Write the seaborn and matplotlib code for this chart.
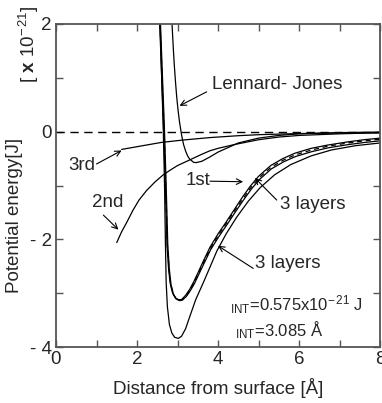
import seaborn as sns
import matplotlib.pyplot as plt

# Lennard-Jones curve
lj_x = [2.86, 2.88, 2.9, 2.92, 2.95, 2.98, 3.0, 3.02, 3.05, 3.1, 3.15, 3.2, 3.25, 3.3, 3.4, 3.46,
        3.6, 3.7, 3.8, 4.0, 4.5, 5.0, 5.5, 6.0, 7.0, 8.0]
lj_y = [2.08, 1.78, 1.50, 1.25, 0.93, 0.65, 0.50, 0.36, 0.18, -0.06, -0.24, -0.36, -0.45, -0.51, -0.57, -0.575,
        -0.55, -0.51, -0.47, -0.38, -0.21, -0.12, -0.07, -0.04, -0.017, -0.008]

# 1st layer (upper well)
first_x = [2.56, 2.61, 2.66, 2.70, 2.74, 2.78, 2.82, 2.88, 2.95, 3.03, 3.10, 3.20, 3.30, 3.40, 3.50, 3.64,
           3.80, 4.00, 4.20, 4.40, 4.60, 4.80, 5.00, 5.30, 5.60, 5.90, 6.30, 6.70, 7.20, 7.60, 8.00]
first_y = [2.0, 1.0, 0.0, -1.0, -2.1, -2.55, -2.82, -3.00, -3.09, -3.12, -3.12, -3.04, -2.93, -2.79, -2.63, -2.40,
           -2.15, -1.90, -1.68, -1.45, -1.22, -1.01, -0.83, -0.63, -0.50, -0.40, -0.31, -0.25, -0.19, -0.15, -0.12]

# dashed curve lying on the 1st layer curve
dash_x = [2.57, 2.62, 2.67, 2.71, 2.75, 2.79, 2.83, 2.89, 2.96, 3.04, 3.11, 3.21, 3.31, 3.41, 3.51, 3.65,
          3.81, 4.01, 4.21, 4.41, 4.61, 4.81, 5.01, 5.31, 5.61, 5.91, 6.31, 6.71, 7.21, 7.61, 8.00]
dash_y = [2.0, 1.0, 0.0, -1.0, -2.1, -2.56, -2.83, -3.01, -3.10, -3.13, -3.12, -3.05, -2.94, -2.80, -2.64, -2.42,
          -2.17, -1.92, -1.70, -1.47, -1.25, -1.04, -0.86, -0.66, -0.53, -0.43, -0.34, -0.27, -0.21, -0.17, -0.14]

# 3 layers (upper)
three_up_x = [2.58, 2.63, 2.68, 2.72, 2.76, 2.80, 2.84, 2.90, 2.97, 3.05, 3.12, 3.22, 3.32, 3.42, 3.52, 3.66,
              3.82, 4.02, 4.22, 4.42, 4.62, 4.82, 5.02, 5.32, 5.62, 5.92, 6.32, 6.72, 7.22, 7.62, 8.00]
three_up_y = [2.0, 1.0, 0.0, -1.0, -2.1, -2.57, -2.84, -3.02, -3.11, -3.14, -3.13, -3.06, -2.95, -2.82, -2.66, -2.44,
              -2.19, -1.95, -1.73, -1.50, -1.28, -1.07, -0.89, -0.69, -0.56, -0.46, -0.37, -0.30, -0.24, -0.20, -0.17]

# 3 layers (lower, deeper well)
three_lo_x = [2.57, 2.61, 2.65, 2.68, 2.70, 2.72, 2.75, 2.80, 2.86, 2.93, 3.02, 3.10, 3.20, 3.31, 3.45, 3.64,
              3.80, 3.97, 4.20, 4.46, 4.75, 5.04, 5.40, 5.80, 6.30, 6.80, 7.40, 8.00]
three_lo_y = [2.0, 1.0, 0.0, -1.0, -2.0, -2.8, -3.25, -3.58, -3.74, -3.82, -3.84, -3.80, -3.66, -3.42, -3.12, -2.80,
              -2.52, -2.22, -1.90, -1.59, -1.29, -1.04, -0.80, -0.61, -0.45, -0.34, -0.26, -0.21]

# 2nd layer
second_x = [1.50, 1.62, 1.75, 1.90, 2.05, 2.24, 2.45, 2.65, 2.85, 3.0, 3.2, 3.4, 3.6, 3.8, 4.0, 4.4,
            5.0, 5.5, 6.0, 7.0, 8.0]
second_y = [-2.06, -1.86, -1.68, -1.46, -1.27, -1.09, -0.93, -0.80, -0.70, -0.63, -0.56, -0.49, -0.42, -0.355, -0.31, -0.24,
            -0.15, -0.10, -0.07, -0.04, -0.02]

# 3rd layer
third_x = [1.62, 2.07, 2.60, 3.14, 3.80, 4.50, 5.04, 6.0, 7.0, 8.0]
third_y = [-0.33, -0.27, -0.20, -0.155, -0.11, -0.075, -0.055, -0.035, -0.025, -0.02]

x_ticks = [0, 2, 4, 6, 8]
y_ticks = [-4, -2, 0, 2]
y_tick_labels = ['- 4', '- 2', '0', '2']

sns.set_style('ticks')
plt.rcParams['font.family'] = ['Liberation Sans', 'DejaVu Sans']
plt.rcParams['mathtext.fontset'] = 'custom'
plt.rcParams['mathtext.rm'] = 'Liberation Sans'
plt.rcParams['mathtext.it'] = 'Liberation Sans:italic'
plt.rcParams['mathtext.bf'] = 'Liberation Sans:bold'

fig = plt.figure(figsize=(3.82, 4.03), dpi=100)
ax = fig.add_axes([56 / 382, 1 - 347 / 403, 324 / 382, 323 / 403])

ax.axhline(0, color='black', lw=1.0, ls=(0, (6, 4)))

solid = dict(color='black', lw=0.9, estimator=None, sort=False, ax=ax)
sns.lineplot(x=lj_x, y=lj_y, **solid)
sns.lineplot(x=third_x, y=third_y, **solid)
sns.lineplot(x=second_x, y=second_y, **solid)
sns.lineplot(x=first_x, y=first_y, **solid)
sns.lineplot(x=three_up_x, y=three_up_y, **solid)
sns.lineplot(x=dash_x, y=dash_y, color='black', lw=0.9, ls=(0, (4, 3)), estimator=None, sort=False, ax=ax)
sns.lineplot(x=three_lo_x, y=three_lo_y, **solid)

ax.set_xlim(0, 8)
ax.set_ylim(-4, 2)
ax.set_xticks(x_ticks)
ax.set_xticks([1, 3, 5, 7], minor=True)
ax.set_yticks(y_ticks)
ax.set_yticklabels(y_tick_labels)
ax.set_yticks([-3, -1, 1], minor=True)
ax.tick_params(which='both', direction='in', top=True, right=True, length=5, width=1,
               color='#555555', labelsize=13.5, pad=3)
for s in ax.spines.values():
    s.set_color('#555555')
    s.set_linewidth(1.3)

ax.set_xlabel('Distance from surface [Å]', fontsize=13.5, labelpad=7)
fig.text(15 / 382, 1 - 215 / 403, 'Potential energy[J]', rotation=90, ha='center', va='center', fontsize=13.5)
fig.text(29 / 382, 1 - 44 / 403, r'[ $\mathbf{x}$ 10$^{-\,21}$]', rotation=90, ha='center', va='center', fontsize=13.5)

fs = 13.5
arrow = dict(arrowstyle='->', lw=0.8, color='black', shrinkA=0, shrinkB=0)
ax.text(3.85, 0.88, 'Lennard- Jones', fontsize=fs, va='center')
ax.annotate('', xy=(3.05, 0.48), xytext=(3.72, 0.74), arrowprops=arrow)
ax.text(0.30, -0.62, '3rd', fontsize=fs, va='center')
ax.annotate('', xy=(1.62, -0.35), xytext=(1.0, -0.60), arrowprops=arrow)
ax.text(0.89, -1.31, '2nd', fontsize=fs, va='center')
ax.annotate('', xy=(1.54, -1.82), xytext=(1.17, -1.55), arrowprops=arrow)
ax.text(3.19, -0.90, '1st', fontsize=fs, va='center')
ax.annotate('', xy=(4.62, -0.93), xytext=(3.80, -0.92), arrowprops=arrow)
ax.text(5.53, -1.36, '3 layers', fontsize=fs, va='center')
ax.annotate('', xy=(4.91, -0.86), xytext=(5.45, -1.27), arrowprops=arrow)
ax.text(4.91, -2.44, '3 layers', fontsize=fs, va='center')
ax.annotate('', xy=(4.0, -2.12), xytext=(4.87, -2.54), arrowprops=arrow)
ax.text(4.30, -3.22, r'$_{\mathrm{INT}}$=0.575x10$^{-\,21}$ J', fontsize=12, va='center')
ax.text(4.42, -3.69, r'$_{\mathrm{INT}}$=3.085 Å', fontsize=12, va='center')

fig.savefig('out.png', dpi=100)
